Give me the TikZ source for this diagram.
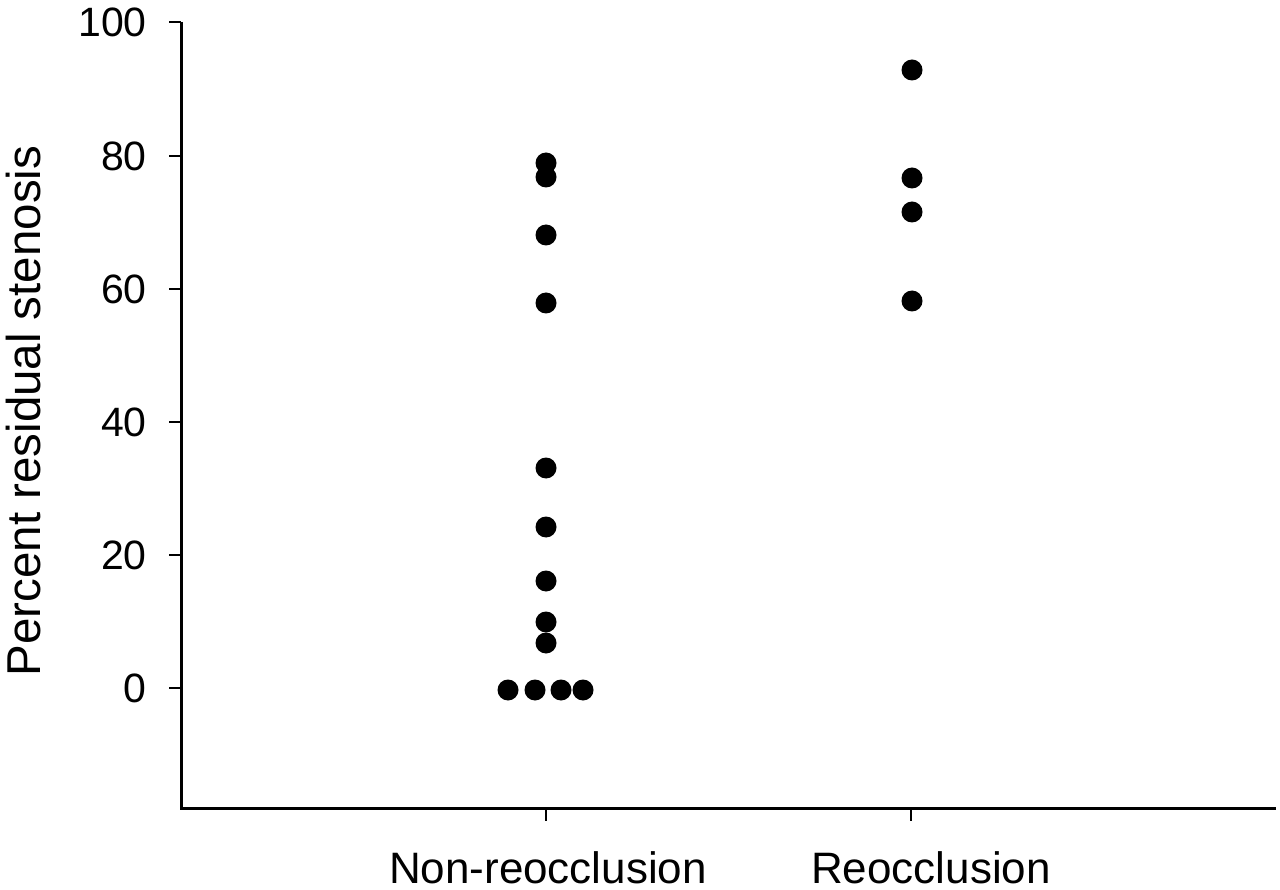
\documentclass[tikz,border=0pt]{standalone}
\usepackage{fontspec}
\setmainfont{Liberation Sans}
\begin{document}
\begin{tikzpicture}[x=1pt,y=-1pt,
  dot/.style={circle,fill=black,draw=none,minimum size=21pt,inner sep=0pt},
  ticklab/.style={anchor=east,inner sep=0pt,font=\fontsize{41}{41}\selectfont},
  catlab/.style={anchor=base,inner sep=0pt,font=\fontsize{44}{44}\selectfont},
  axisline/.style={line width=3pt},
  tickline/.style={line width=2.2pt}]
\useasboundingbox (0,0) rectangle (1280,890);
% axes
\coordinate (top) at (181,22);
\coordinate (origin) at (181,808);
\coordinate (xend) at (1276,808);
\draw[axisline] (top) -- (origin) -- (xend);
% y ticks
\foreach \v/\yy in {100/22,80/156,60/289,40/422,20/555,0/688}{
  \coordinate (yt\v) at (181,\yy);
  \coordinate (ytl\v) at (169,\yy);
  \draw[tickline] (ytl\v) -- (yt\v);
  \node[ticklab] (yl\v) at (147,\yy) {\v};
}
% x ticks
\coordinate (xt1) at (546,808);
\coordinate (xt1b) at (546,821);
\coordinate (xt2) at (911,808);
\coordinate (xt2b) at (911,821);
\draw[tickline] (xt1) -- (xt1b);
\draw[tickline] (xt2) -- (xt2b);
% labels
\node[catlab] (lnon) at (548,883) {Non-reocclusion};
\node[catlab] (lre) at (931,883) {Reocclusion};
\node[rotate=90,inner sep=0pt,font=\fontsize{47.5}{47.5}\selectfont] (ylab) at (24,411) {Percent residual stenosis};
% Non-reocclusion dots
\foreach \yy [count=\i] in {163,177,235,303,468,527,581,622,643}{
  \node[dot] (n\i) at (546,\yy) {};
}
\foreach \xx [count=\i] in {508,535,561,583}{
  \node[dot] (z\i) at (\xx,690) {};
}
% Reocclusion dots
\foreach \yy [count=\i] in {70,178,212,301}{
  \node[dot] (r\i) at (912,\yy) {};
}
\end{tikzpicture}
\end{document}
